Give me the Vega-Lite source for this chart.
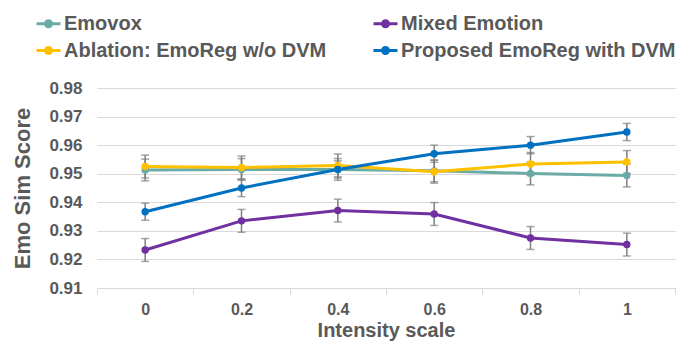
{
  "$schema": "https://vega.github.io/schema/vega-lite/v6.json",
  "width": 578,
  "height": 200,
  "autosize": {"type": "none"},
  "padding": {"left": 97, "top": 88, "right": 18, "bottom": 62},
  "background": "white",
  "config": {
    "view": {"stroke": null},
    "font": "Liberation Sans"
  },
  "data": {
    "values": [
      {"x": "0", "series": "Emovox", "v": 0.9513, "err": 0.0038},
      {"x": "0.2", "series": "Emovox", "v": 0.9515, "err": 0.0038},
      {"x": "0.4", "series": "Emovox", "v": 0.9515, "err": 0.0038},
      {"x": "0.6", "series": "Emovox", "v": 0.9510, "err": 0.0038},
      {"x": "0.8", "series": "Emovox", "v": 0.9501, "err": 0.0040},
      {"x": "1", "series": "Emovox", "v": 0.9494, "err": 0.0040},
      {"x": "0", "series": "Mixed Emotion", "v": 0.9233, "err": 0.0040},
      {"x": "0.2", "series": "Mixed Emotion", "v": 0.9335, "err": 0.0040},
      {"x": "0.4", "series": "Mixed Emotion", "v": 0.9371, "err": 0.0040},
      {"x": "0.6", "series": "Mixed Emotion", "v": 0.9359, "err": 0.0040},
      {"x": "0.8", "series": "Mixed Emotion", "v": 0.9275, "err": 0.0040},
      {"x": "1", "series": "Mixed Emotion", "v": 0.9252, "err": 0.0040},
      {"x": "0", "series": "Ablation: EmoReg w/o DVM", "v": 0.9525, "err": 0.0040},
      {"x": "0.2", "series": "Ablation: EmoReg w/o DVM", "v": 0.9522, "err": 0.0040},
      {"x": "0.4", "series": "Ablation: EmoReg w/o DVM", "v": 0.9529, "err": 0.0040},
      {"x": "0.6", "series": "Ablation: EmoReg w/o DVM", "v": 0.9507, "err": 0.0040},
      {"x": "0.8", "series": "Ablation: EmoReg w/o DVM", "v": 0.9534, "err": 0.0040},
      {"x": "1", "series": "Ablation: EmoReg w/o DVM", "v": 0.9541, "err": 0.0040},
      {"x": "0", "series": "Proposed EmoReg with DVM", "v": 0.9367, "err": 0.0030},
      {"x": "0.2", "series": "Proposed EmoReg with DVM", "v": 0.9450, "err": 0.0030},
      {"x": "0.4", "series": "Proposed EmoReg with DVM", "v": 0.9515, "err": 0.0030},
      {"x": "0.6", "series": "Proposed EmoReg with DVM", "v": 0.9570, "err": 0.0030},
      {"x": "0.8", "series": "Proposed EmoReg with DVM", "v": 0.9600, "err": 0.0030},
      {"x": "1", "series": "Proposed EmoReg with DVM", "v": 0.9646, "err": 0.0030}
    ]
  },
  "encoding": {
    "x": {
      "field": "x",
      "type": "ordinal",
      "sort": null,
      "bandPosition": 0.5,
      "scale": {"type": "band", "paddingInner": 0, "paddingOuter": 0},
      "axis": {
        "title": "Intensity scale",
        "labelAngle": 0,
        "labelFont": "Liberation Sans",
        "labelFontWeight": "bold",
        "labelFontSize": 16,
        "labelColor": "#595959",
        "labelPadding": 7,
        "titleFont": "Liberation Sans",
        "titleFontWeight": "bold",
        "titleFontSize": 20,
        "titleColor": "#595959",
        "titlePadding": 3,
        "domainColor": "#D9D9D9",
        "domainWidth": 1,
        "tickColor": "#D9D9D9",
        "tickSize": 6,
        "tickBand": "extent",
        "grid": false
      }
    },
    "y": {
      "field": "v",
      "type": "quantitative",
      "scale": {"domain": [0.91, 0.98], "nice": false, "zero": false},
      "axis": {
        "title": "Emo Sim Score",
        "values": [0.91, 0.92, 0.93, 0.94, 0.95, 0.96, 0.97, 0.98],
        "format": ".2f",
        "labelFont": "Liberation Sans",
        "labelFontWeight": "bold",
        "labelFontSize": 17,
        "labelColor": "#595959",
        "labelPadding": 15,
        "ticks": false,
        "domain": false,
        "grid": true,
        "gridColor": "#D9D9D9",
        "gridWidth": 1,
        "titleFont": "Liberation Sans",
        "titleFontWeight": "bold",
        "titleFontSize": 22,
        "titleColor": "#595959",
        "titlePadding": 14
      }
    }
  },
  "layer": [
    {
      "mark": {"type": "errorbar", "ticks": {"size": 8, "thickness": 1.5, "color": "#7F7F7F"}, "color": "#7F7F7F", "thickness": 1.5},
      "encoding": {
        "yError": {"field": "err"},
        "detail": {"field": "series"}
      }
    },
    {
      "mark": {"type": "line", "strokeWidth": 3, "point": {"filled": true, "size": 55}},
      "encoding": {
        "color": {
          "field": "series",
          "type": "nominal",
          "sort": null,
          "scale": {
            "domain": ["Emovox", "Ablation: EmoReg w/o DVM", "Mixed Emotion", "Proposed EmoReg with DVM"],
            "range": ["#6AABA5", "#FFC000", "#7030A0", "#0070C0"]
          },
          "legend": {
            "title": null,
            "orient": "none",
            "legendX": -62,
            "legendY": -78,
            "columns": 2,
            "columnPadding": 40,
            "rowPadding": 3,
            "labelFont": "Liberation Sans",
            "labelFontWeight": "bold",
            "labelFontSize": 20,
            "labelColor": "#595959",
            "labelLimit": 400,
            "labelOffset": 2,
            "symbolType": "M-1,0L1,0M-0.25,0A0.25,0.25 0 1,1 0.25,0A0.25,0.25 0 1,1 -0.25,0Z",
            "symbolSize": 576,
            "symbolStrokeWidth": 3
          }
        }
      }
    }
  ]
}
